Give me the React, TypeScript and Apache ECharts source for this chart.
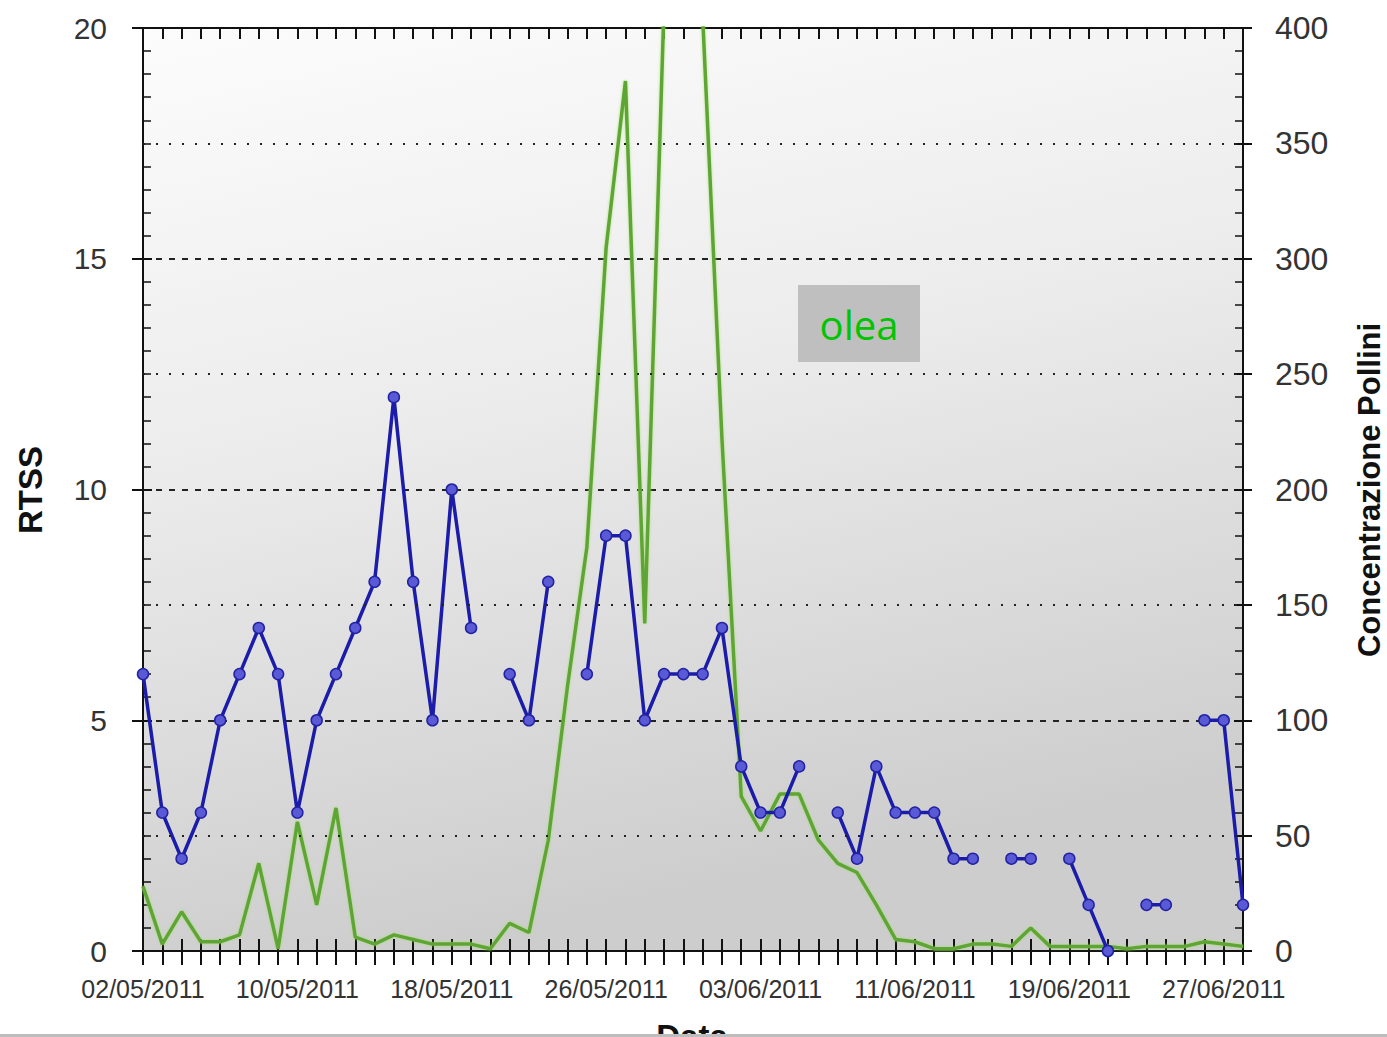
import React, { useEffect, useRef } from "react";
import * as echarts from "echarts";

const dates = [
  "02/05/2011", "03/05/2011", "04/05/2011", "05/05/2011", "06/05/2011", "07/05/2011", "08/05/2011", "09/05/2011",
  "10/05/2011", "11/05/2011", "12/05/2011", "13/05/2011", "14/05/2011", "15/05/2011", "16/05/2011", "17/05/2011",
  "18/05/2011", "19/05/2011", "20/05/2011", "21/05/2011", "22/05/2011", "23/05/2011", "24/05/2011", "25/05/2011",
  "26/05/2011", "27/05/2011", "28/05/2011", "29/05/2011", "30/05/2011", "31/05/2011", "01/06/2011", "02/06/2011",
  "03/06/2011", "04/06/2011", "05/06/2011", "06/06/2011", "07/06/2011", "08/06/2011", "09/06/2011", "10/06/2011",
  "11/06/2011", "12/06/2011", "13/06/2011", "14/06/2011", "15/06/2011", "16/06/2011", "17/06/2011", "18/06/2011",
  "19/06/2011", "20/06/2011", "21/06/2011", "22/06/2011", "23/06/2011", "24/06/2011", "25/06/2011", "26/06/2011",
  "27/06/2011", "28/06/2011",
];

const rtss: (number | null)[] = [
  6, 3, 2, 3, 5, 6, 7, 6, 3, 5, 6, 7, 8, 12, 8, 5, 10, 7, null, 6, 5, 8, null, 6, 9, 9, 5, 6, 6, 6,
  7, 4, 3, 3, 4, null, 3, 2, 4, 3, 3, 3, 2, 2, null, 2, 2, null, 2, 1, 0, null, 1, 1, null, 5, 5, 1,
];

const pollini = [
  28, 3, 17, 4, 4, 7, 38, 1, 56, 20, 62, 6, 3, 7, 5, 3, 3, 3, 1, 12, 8, 48, 115, 175, 305, 377, 142, 410, 520, 405,
  222, 67, 52, 68, 68, 48, 38, 34, 20, 5, 4, 1, 1, 3, 3, 2, 10, 2, 2, 2, 2, 1, 2, 2, 2, 4, 3, 2,
];

const rtssTicks = [0, 5, 10, 15, 20];
const polliniTicks = [0, 50, 100, 150, 200, 250, 300, 350, 400];
const polliniDottedGrid = [50, 150, 250, 350];
const dateLabelEvery = 8;
const annotationText = "olea";
const leftName = "RTSS";
const rightName = "Concentrazione Pollini";
const bottomName = "Data";

export default function App() {
  const ref = useRef<HTMLDivElement>(null);
  useEffect(() => {
    const chart = echarts.init(ref.current!, null, { renderer: "svg" });
    const font = "'Liberation Sans', Arial, sans-serif";
    const black = "#111";
    const rMin = rtssTicks[0];
    const rMax = rtssTicks[rtssTicks.length - 1];
    const rStep = rtssTicks[1] - rtssTicks[0];
    const pMin = polliniTicks[0];
    const pMax = polliniTicks[polliniTicks.length - 1];
    const pStep = polliniTicks[1] - polliniTicks[0];

    const catAxisBase = {
      type: "category" as const,
      data: dates,
      boundaryGap: false,
    };

    const option: any = {
      animation: false,
      backgroundColor: "#ffffff",
      grid: {
        left: 143,
        top: 28,
        width: 1100,
        height: 923,
        show: true,
        borderWidth: 0,
        backgroundColor: new echarts.graphic.LinearGradient(0, 0, 0.25, 1, [
          { offset: 0, color: "#fcfcfc" },
          { offset: 0.45, color: "#ececec" },
          { offset: 1, color: "#cdcdcd" },
        ]),
      },
      xAxis: [
        {
          ...catAxisBase,
          position: "bottom",
          axisLine: { show: true, onZero: false, lineStyle: { color: black, width: 2 } },
          axisTick: { show: true, interval: 0, inside: false, length: 14, lineStyle: { color: black, width: 2 } },
          axisLabel: {
            interval: dateLabelEvery - 1,
            fontSize: 25,
            fontFamily: font,
            color: "#333",
            margin: 25,
          },
          splitLine: { show: false },
        },
        {
          ...catAxisBase,
          position: "top",
          axisLine: { show: true, onZero: false, lineStyle: { color: black, width: 2 } },
          axisTick: { show: true, interval: 0, inside: true, length: 11, lineStyle: { color: black, width: 2 } },
          axisLabel: { show: false },
          splitLine: { show: false },
        },
        {
          ...catAxisBase,
          position: "bottom",
          axisLine: { show: false, onZero: false },
          axisTick: { show: true, interval: 0, inside: true, length: 12, lineStyle: { color: black, width: 2 } },
          axisLabel: { show: false },
          splitLine: { show: false },
        },
      ],
      yAxis: [
        {
          type: "value",
          position: "left",
          min: rMin,
          max: rMax,
          interval: rStep,
          axisLine: { show: true, onZero: false, lineStyle: { color: black, width: 2 } },
          axisTick: { show: true, inside: true, length: 9, lineStyle: { color: black, width: 2 } },
          minorTick: { show: true, splitNumber: 10, length: 8, lineStyle: { color: black, width: 1.5 } },
          axisLabel: { fontSize: 30, fontFamily: font, color: "#333", margin: 36 },
          splitLine: { show: true, lineStyle: { color: "#222", width: 2, type: [6, 7] } },
          minorSplitLine: { show: false },
        },
        {
          type: "value",
          position: "right",
          min: pMin,
          max: pMax,
          interval: pStep,
          axisLine: { show: true, onZero: false, lineStyle: { color: black, width: 2 } },
          axisTick: { show: true, inside: true, length: 9, lineStyle: { color: black, width: 2 } },
          minorTick: { show: true, splitNumber: 5, length: 8, lineStyle: { color: black, width: 1.5 } },
          axisLabel: { fontSize: 32, fontFamily: font, color: "#333", margin: 32 },
          splitLine: { show: false },
        },
        {
          type: "value",
          position: "left",
          min: rMin,
          max: rMax,
          interval: rStep,
          axisLine: { show: false, onZero: false },
          axisTick: { show: true, inside: false, length: 11, lineStyle: { color: black, width: 2 } },
          axisLabel: { show: false },
          splitLine: { show: false },
        },
        {
          type: "value",
          position: "right",
          min: pMin,
          max: pMax,
          interval: pStep,
          axisLine: { show: false, onZero: false },
          axisTick: { show: true, inside: false, length: 9, lineStyle: { color: black, width: 2 } },
          axisLabel: { show: false },
          splitLine: { show: false },
        },
      ],
      series: [
        {
          name: rightName,
          type: "line",
          xAxisIndex: 0,
          yAxisIndex: 1,
          data: pollini,
          symbol: "none",
          showSymbol: false,
          clip: true,
          z: 2,
          lineStyle: {
            color: "#5fa535",
            width: 3.5,
            shadowColor: "rgba(150,225,90,0.7)",
            shadowBlur: 3,
          },
          markLine: {
            silent: true,
            symbol: ["none", "none"],
            label: { show: false },
            lineStyle: { color: "#222", width: 2, type: [2, 11] },
            data: polliniDottedGrid.map((v) => ({ yAxis: v })),
          },
        },
        {
          name: leftName,
          type: "line",
          xAxisIndex: 0,
          yAxisIndex: 0,
          data: rtss,
          connectNulls: false,
          symbol: "circle",
          symbolSize: 11,
          clip: true,
          z: 3,
          lineStyle: { color: "#1c1caa", width: 3.5 },
          itemStyle: { color: "#5a5ad6", borderColor: "#2222a4", borderWidth: 1.5 },
        },
      ],
      graphic: [
        {
          type: "text",
          x: 30,
          y: 490,
          rotation: Math.PI / 2,
          style: {
            text: leftName,
            font: "bold 33px 'Liberation Sans', Arial, sans-serif",
            fill: "#111",
            align: "center",
            verticalAlign: "middle",
          },
        },
        {
          type: "text",
          x: 1369,
          y: 490,
          rotation: Math.PI / 2,
          style: {
            text: rightName,
            font: "bold 31px 'Liberation Sans', Arial, sans-serif",
            fill: "#111",
            align: "center",
            verticalAlign: "middle",
          },
        },
        {
          type: "text",
          x: 692,
          y: 1020,
          style: {
            text: bottomName,
            font: "bold 33px 'Liberation Sans', Arial, sans-serif",
            fill: "#111",
            align: "center",
            verticalAlign: "top",
          },
        },
        {
          type: "group",
          x: 798,
          y: 285,
          children: [
            { type: "rect", shape: { x: 0, y: 0, width: 122, height: 77 }, style: { fill: "#bfbfbf" } },
            {
              type: "text",
              x: 61,
              y: 39,
              style: {
                text: annotationText,
                font: "40px 'Open Sans', 'Noto Sans', sans-serif",
                fill: "#00c400",
                align: "center",
                verticalAlign: "middle",
              },
            },
          ],
        },
        {
          type: "rect",
          shape: { x: 0, y: 1034, width: 1387, height: 3 },
          style: { fill: "#bdbdbd" },
        },
      ],
    };
    chart.setOption(option);
    return () => chart.dispose();
  }, []);
  return (
    <div
      ref={ref}
      style={{ position: "absolute", left: 0, top: 0, width: 1387, height: 1037, background: "#fff" }}
    />
  );
}
